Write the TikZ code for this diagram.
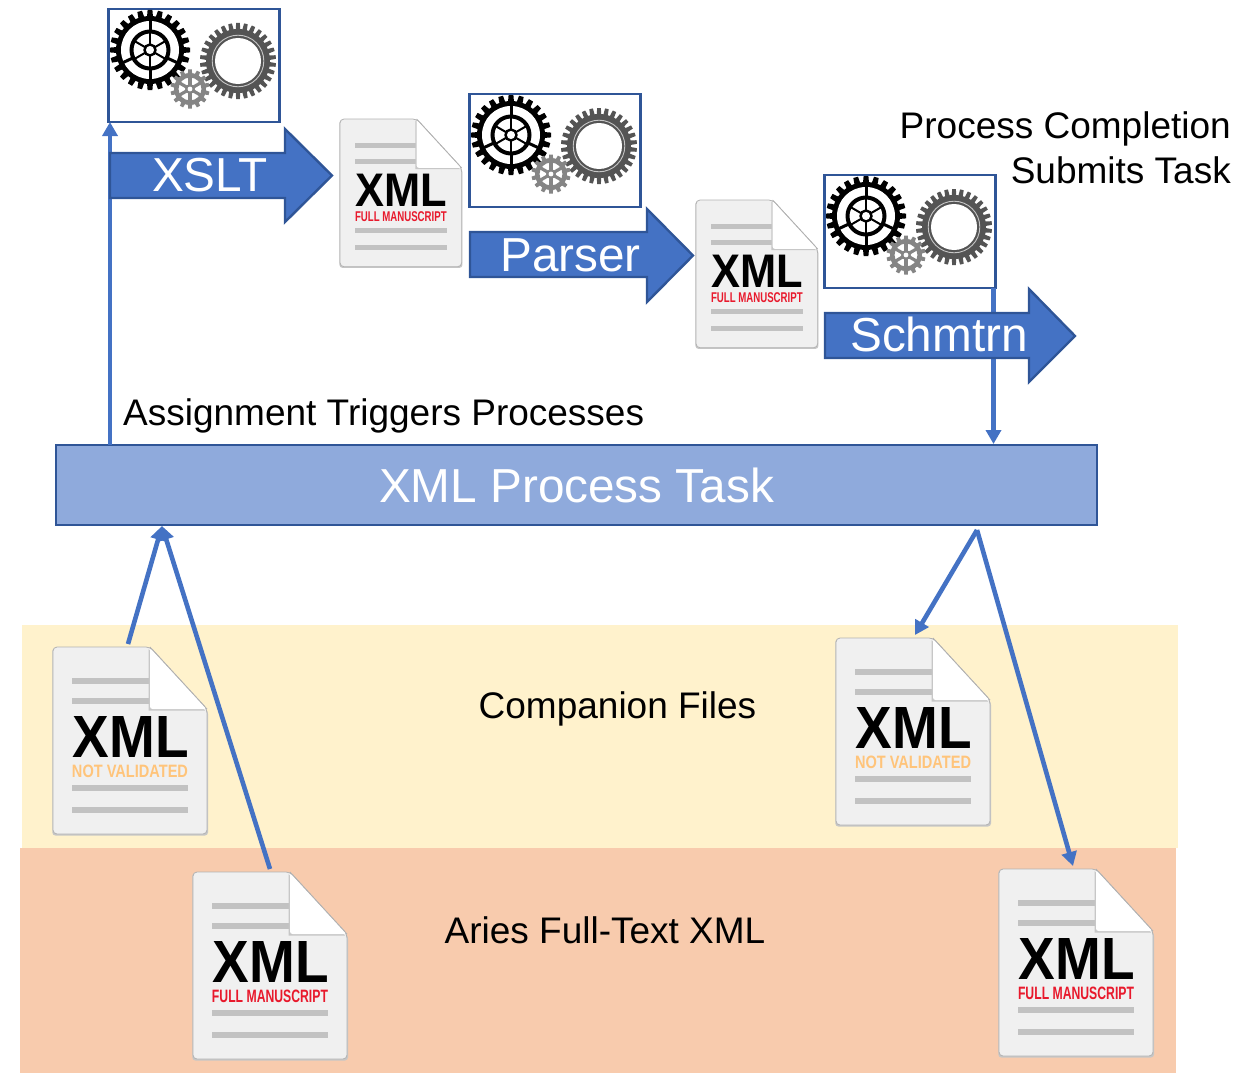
\documentclass[tikz,border=0pt]{standalone}
\usepackage{fontspec}
\usepackage{graphicx}
\setmainfont{Liberation Sans}
\usetikzlibrary{arrows.meta}
\definecolor{blueA}{HTML}{4472C4}
\definecolor{blueB}{HTML}{2F5597}
\definecolor{taskfill}{HTML}{8FAADC}
\definecolor{bandY}{HTML}{FFF2CC}
\definecolor{bandO}{HTML}{F8CBAD}
\definecolor{docfill}{HTML}{F0F0F0}
\definecolor{docline}{HTML}{C2C2C2}
\definecolor{fmred}{HTML}{E8192C}
\definecolor{nvor}{HTML}{FFC47A}
\tikzset{
  x=1pt,y=-1pt,
  conn/.style={draw=blueA,line width=4.6pt,-{Triangle[length=14pt,width=15pt]}},
  blockarrow/.style={fill=blueA,draw=blueB,line width=2.4pt,line join=miter},
  gearbox/.style={draw=blueB,line width=2.2pt,fill=white,outer sep=0pt},
  lab/.style={font=\fontsize{37}{40}\selectfont,text=black,inner sep=0pt},
  whitelab/.style={font=\fontsize{47.7}{50}\selectfont,text=white,inner sep=0pt}
}
% teeth: cx cy root-radius tip-radius n tooth-width colour
\newcommand{\gearteeth}[7]{%
  \fill[#7] (#1,#2) circle[radius=#3];
  \foreach \ga in {1,...,#5}{
    \fill[#7,rotate around={\ga*360/#5:(#1,#2)}]
      (#1-#6/2,#2-#3+1) -- (#1-#6/2*0.8,#2-#4) -- (#1+#6/2*0.8,#2-#4) -- (#1+#6/2,#2-#3+1) -- cycle;
  }}
% three gears with box-relative origin
\newcommand{\gearset}[3]{%
  \node[gearbox,minimum width=171pt,minimum height=113pt,inner sep=0pt,anchor=north west] (#1) at (#2+0.5,#3) {};
  \begin{scope}[shift={(#2,#3)}]
    % dark gear
    \gearteeth{130}{52}{32}{38}{30}{4.6}{black!67}
    \draw[black!22,line width=0.9pt] (130,52) circle[radius=25.8];
    \fill[white] (130,52) circle[radius=23];
    % black gear
    \gearteeth{42}{41}{34}{40}{24}{6}{black}
    \fill[white] (42,41) circle[radius=29];
    \draw[black,line width=4pt] (42,41) circle[radius=18.5];
    \foreach \sa in {90,270,25,155}{\draw[black,line width=3pt] (42,41) ++(\sa:20) -- ++(\sa:10);}
    \foreach \sa in {0,60,...,300}{\draw[black,line width=2pt] (42,41) ++(\sa+30:5) -- ++(\sa+30:12);}
    \fill[white] (42,41) circle[radius=5];
    \draw[black,line width=2.4pt] (42,41) circle[radius=5.5];
    % light gear
    \gearteeth{82}{80}{16}{19.5}{14}{4.4}{black!48}
    \fill[white] (82,80) circle[radius=12.5];
    \foreach \sa in {0,60,...,300}{\fill[black!48,rotate around={\sa:(82,80)}] (80.4,80) rectangle (83.6,68);}
    \draw[black!48,line width=2pt] (82,80) circle[radius=12.5];
    \fill[black!48] (82,80) circle[radius=5];
    \fill[white] (82,80) circle[radius=2.4];
  \end{scope}}
% name x y scale kind(text) colour
\newcommand{\xmldoc}[6]{%
  \begin{scope}[shift={(#2,#3)},scale=#4,transform shape]
    \fill[black!22,rounded corners=3pt] (-0.7,1) -- (97,1) -- (155,64) -- (155,188.5) -- (-0.7,188.5) -- cycle;
    \path[fill=docfill,draw=black!30,line width=0.8pt,rounded corners=4pt] (0,0) -- (97,0) -- (154,62) -- (154,187) -- (0,187) -- cycle;
    \fill[docline] (19,31) rectangle (97,37);
    \fill[docline] (19,51) rectangle (97,57);
    \fill[docline] (19,138) rectangle (135,144);
    \fill[docline] (19,160) rectangle (135,166);
    \fill[black!22] (95.5,2) -- (95.5,63.5) -- (152,63.5) -- cycle;
    \path[fill=white,rounded corners=2.5pt] (97,1) -- (97,62) -- (153.5,62) -- cycle;
    \draw[black!30,line width=0.8pt] (97,0) -- (154,62);
    \node[inner sep=0pt] (#1) at (78,90) {\resizebox{116pt}{41pt}{\bfseries XML}};
    \node[inner sep=0pt] (#1sub) at (77,124) {\resizebox{116pt}{12.5pt}{\bfseries\textcolor{#6}{#5}}};
  \end{scope}}
\begin{document}
\begin{tikzpicture}
\useasboundingbox (0,0) rectangle (1250,1073);
\fill[bandY] (22,625) rectangle (1178,848);
\fill[bandO] (20,848) rectangle (1176,1073);
% task
\node[draw=blueB,line width=2.4pt,fill=taskfill,minimum width=1041pt,minimum height=80pt,inner sep=0pt,outer sep=0pt,anchor=north west] (task) at (56,445) {};
\node[whitelab,anchor=base] (tasklab) at (576.5,502) {XML Process Task};
% coordinates
\coordinate (taskL) at (110,445);
\coordinate (taskR) at (993.5,444);
\coordinate (inL) at (162,526);
\coordinate (outR) at (977,530);
\coordinate (boxAcorner) at (110,122);
\coordinate (boxCcorner) at (993.5,288);
% gear boxes
\gearset{boxA}{108}{9}
\gearset{boxB}{469}{94}
\gearset{boxC}{824}{175}
% connectors behind arrows
\draw[conn] (boxCcorner) -- (taskR);
\draw[conn] (taskL) -- (boxAcorner);
% block arrows
\draw[blockarrow] (110,153) -- (285,153) -- (285,129) -- (332,175.5) -- (285,222) -- (285,198) -- (110,198) -- cycle;
\node[whitelab,anchor=base] (xslt) at (210,191.5) {XSLT};
\draw[blockarrow] (470,232) -- (647,232) -- (647,209) -- (693,255.5) -- (647,302) -- (647,277) -- (470,277) -- cycle;
\node[whitelab,anchor=base] (parser) at (570.5,271.5) {Parser};
\draw[blockarrow] (825,313) -- (1029,313) -- (1029,289) -- (1075,336) -- (1029,382) -- (1029,358) -- (825,358) -- cycle;
\node[whitelab,anchor=base] (schm) at (939,351.5) {Schmtrn};
% small docs
\xmldoc{docA}{340}{119}{0.79}{FULL MANUSCRIPT}{fmred}
\xmldoc{docB}{696}{200}{0.79}{FULL MANUSCRIPT}{fmred}
% large docs
\xmldoc{docC}{53}{647}{1}{NOT VALIDATED}{nvor}
\xmldoc{docD}{836}{638}{1}{NOT VALIDATED}{nvor}
\xmldoc{docE}{193}{872}{1}{FULL MANUSCRIPT}{fmred}
\xmldoc{docF}{999}{869}{1}{FULL MANUSCRIPT}{fmred}
% connectors
\coordinate (docCtop) at (128,644);
\coordinate (docEtop) at (270,869);
\coordinate (docDtop) at (915,635);
\coordinate (docFtop) at (1073,866);
\draw[conn] (docCtop) -- (inL);
\draw[conn] (docEtop) -- (inL);
\draw[conn] (outR) -- (docDtop);
\draw[conn] (outR) -- (docFtop);
% labels
\node[lab,anchor=base east] (pc1) at (1231,138) {Process Completion};
\node[lab,anchor=base east] (pc2) at (1231,183) {Submits Task};
\node[lab,anchor=base west] (assign) at (123,425) {Assignment Triggers Processes};
\node[lab,anchor=base] (comp) at (617.5,718) {Companion Files};
\node[lab,anchor=base] (aries) at (605,943) {Aries Full-Text XML};
\end{tikzpicture}
\end{document}
